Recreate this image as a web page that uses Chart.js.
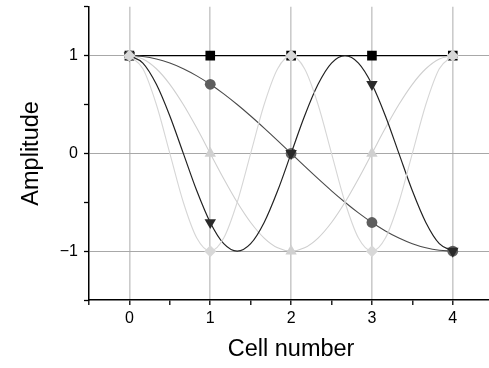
<!DOCTYPE html>
<html>
<head>
<meta charset="utf-8">
<script src="https://cdn.jsdelivr.net/npm/chart.js@4/dist/chart.umd.min.js"></script>
<style>
  html, body { margin: 0; padding: 0; background: #fff; overflow: hidden; }
  canvas { display: block; }
</style>
</head>
<body>
<canvas id="basisChart" width="500" height="368"></canvas>
<script>
// Cell positions and sampled basis values at each cell
const cells = [0, 1, 2, 3, 4];
const k0Cells = [1, 1, 1, 1, 1];
const k1Cells = [1, 0.707, 0, -0.707, -1];
const k2Cells = [1, 0, -1, 0, 1];
const k3Cells = [1, -0.707, 0, 0.707, -1];
const k4Cells = [1, -1, 1, -1, 1];

// Continuous curves, read every 1/6 of a cell
const curveX = [0, 0.1667, 0.3333, 0.5, 0.6667, 0.8333, 1, 1.1667, 1.3333, 1.5, 1.6667, 1.8333,
                2, 2.1667, 2.3333, 2.5, 2.6667, 2.8333, 3, 3.1667, 3.3333, 3.5, 3.6667, 3.8333, 4];
const k1Curve = [1, 0.991, 0.966, 0.924, 0.866, 0.793, 0.707, 0.609, 0.5, 0.383, 0.259, 0.131,
                 0, -0.131, -0.259, -0.383, -0.5, -0.609, -0.707, -0.793, -0.866, -0.924, -0.966, -0.991, -1];
const k2Curve = [1, 0.966, 0.866, 0.707, 0.5, 0.259, 0, -0.259, -0.5, -0.707, -0.866, -0.966,
                 -1, -0.966, -0.866, -0.707, -0.5, -0.259, 0, 0.259, 0.5, 0.707, 0.866, 0.966, 1];
const k3Curve = [1, 0.924, 0.707, 0.383, 0, -0.383, -0.707, -0.924, -1, -0.924, -0.707, -0.383,
                 0, 0.383, 0.707, 0.924, 1, 0.924, 0.707, 0.383, 0, -0.383, -0.707, -0.924, -1];
const k4Curve = [1, 0.866, 0.5, 0, -0.5, -0.866, -1, -0.866, -0.5, 0, 0.5, 0.866,
                 1, 0.866, 0.5, 0, -0.5, -0.866, -1, -0.866, -0.5, 0, 0.5, 0.866, 1];

const xTitle = 'Cell number';
const yTitle = 'Amplitude';

const toPoints = (xs, ys) => xs.map((x, i) => ({ x: x, y: ys[i] }));

function curve(ys, color, width, order) {
    return {
        data: toPoints(curveX, ys),
        showLine: true,
        borderColor: color,
        borderWidth: width,
        pointRadius: 0,
        cubicInterpolationMode: 'monotone',
        order: order
    };
}

function markers(ys, color, style, radius, rotation, order) {
    return {
        data: toPoints(cells, ys),
        showLine: false,
        pointStyle: style,
        pointRadius: radius,
        pointRotation: rotation,
        pointBackgroundColor: color,
        pointBorderColor: color,
        pointBorderWidth: 0,
        order: order
    };
}

const isWhole = v => Math.abs(v - Math.round(v)) < 1e-6;
const font = size => ({ family: '"Liberation Sans", Arial, sans-serif', size: size });

const ctx = document.getElementById('basisChart').getContext('2d');
new Chart(ctx, {
    type: 'scatter',
    data: {
        datasets: [
            // k0 at the bottom, k4 on top
            { data: toPoints(cells, k0Cells), showLine: true, borderColor: '#000', borderWidth: 1.3, pointRadius: 0, order: 10 },
            markers(k0Cells, '#000', 'rect', 6.8, 0, 9),
            curve(k1Curve, '#4a4a4a', 1.1, 8),
            markers(k1Cells, '#5e5e5e', 'circle', 5.4, 0, 7),
            curve(k2Curve, '#cfcfcf', 1.1, 6),
            markers(k2Cells, '#d0d0d0', 'triangle', 6.6, 0, 5),
            curve(k3Curve, '#222', 1.2, 4),
            markers(k3Cells, '#2a2a2a', 'triangle', 6.6, 180, 3),
            curve(k4Curve, '#d6d6d6', 1.1, 2),
            markers(k4Cells, '#d8d8d8', 'rectRot', 6, 0, 1)
        ]
    },
    options: {
        responsive: false,
        animation: false,
        events: [],
        layout: { padding: { left: 0, right: 6, top: 5, bottom: 0 } },
        plugins: {
            legend: { display: false },
            tooltip: { enabled: false }
        },
        scales: {
            x: {
                type: 'linear',
                min: -0.5,
                max: 4.5,
                afterFit: scale => {
                    scale.height = 68;
                    scale.paddingLeft = 0;
                    scale.paddingRight = 0;
                },
                ticks: {
                    stepSize: 0.5,
                    autoSkip: false,
                    maxRotation: 0,
                    padding: 4,
                    color: '#000',
                    font: font(16),
                    callback: v => isWhole(v) ? String(Math.round(v)) : ''
                },
                grid: {
                    color: c => (c.tick && isWhole(c.tick.value)) ? '#cbcbcb' : 'rgba(0,0,0,0)',
                    lineWidth: 1.6,
                    tickLength: 5,
                    tickColor: '#000',
                    tickWidth: 1.3
                },
                border: { color: '#000', width: 1.5 },
                title: {
                    display: true,
                    text: xTitle,
                    color: '#000',
                    font: font(23.5),
                    padding: { top: 5 }
                }
            },
            y: {
                type: 'linear',
                min: -1.5,
                max: 1.5,
                afterFit: scale => {
                    scale.width = 89;
                    scale.paddingTop = 0;
                    scale.paddingBottom = 0;
                },
                ticks: {
                    stepSize: 0.5,
                    autoSkip: false,
                    padding: 6,
                    color: '#000',
                    font: font(16),
                    callback: v => {
                        if (!isWhole(v)) return '';
                        const n = Math.round(v);
                        return n < 0 ? '\u2212' + Math.abs(n) : String(n);
                    }
                },
                grid: {
                    color: c => (c.tick && isWhole(c.tick.value)) ? '#a8a8a8' : 'rgba(0,0,0,0)',
                    lineWidth: 1,
                    tickLength: 5,
                    tickColor: '#000',
                    tickWidth: 1.3
                },
                border: { color: '#000', width: 1.5 },
                title: {
                    display: true,
                    text: yTitle,
                    color: '#000',
                    font: font(23.5),
                    padding: { top: 17 }
                }
            }
        }
    }
});
</script>
</body>
</html>
